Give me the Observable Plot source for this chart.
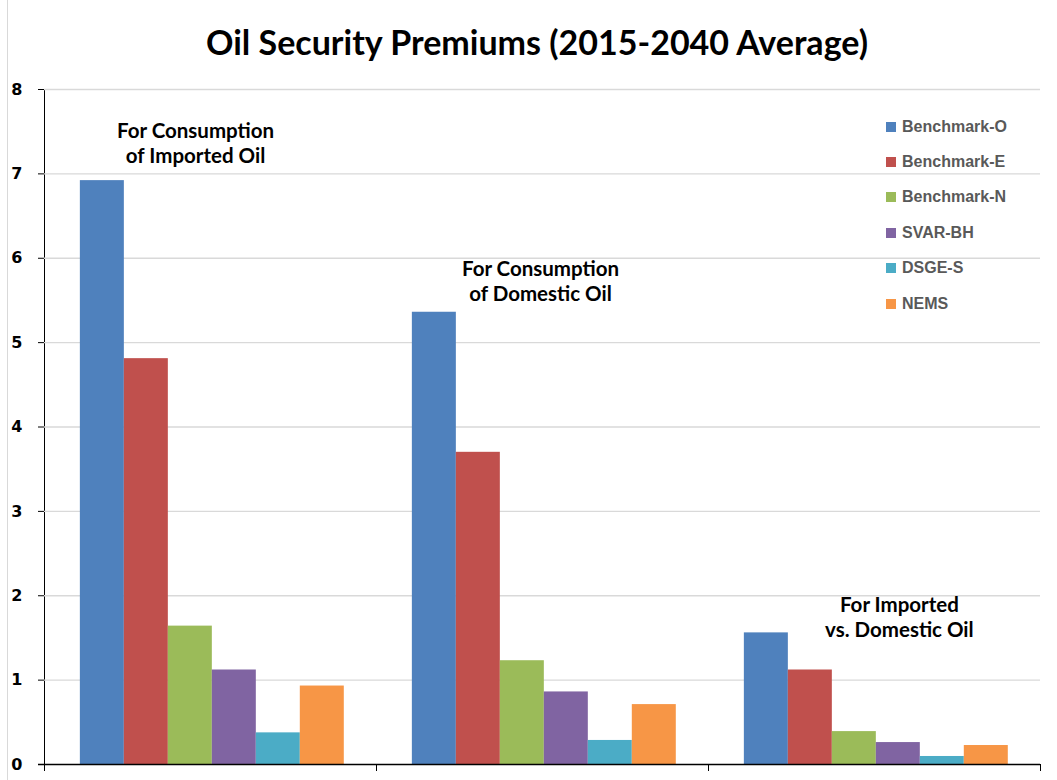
<!DOCTYPE html>
<html>
<head>
<meta charset="utf-8">
<script src="https://cdn.jsdelivr.net/npm/d3@7"></script>
<script src="https://cdn.jsdelivr.net/npm/@observablehq/plot@0.6"></script>
<style>
  body { margin: 0; background: #fff; }
  #chart { position: relative; width: 1057px; height: 780px; overflow: hidden; }
  #edge { position: absolute; left: 7px; top: 0; width: 0; height: 780px; border-left: 1px solid #d9d9d9; }
  #title { height: 75px; box-sizing: border-box; padding: 25px 0 0 17px; text-align: center;
           font: bold 34px Lato, sans-serif; line-height: 34px; color: #000; }
  #legend { position: absolute; left: 886px; top: 109px; font: bold 16px "Liberation Sans", sans-serif; color: #595959; }
  #legend .row { height: 35.4px; display: flex; align-items: center; }
  #legend .sw { width: 10px; height: 10px; margin-right: 6px; }
  #chart svg [aria-label^="y-axis"] text { font-size: 16px !important; font-weight: bold !important; font-family: "DejaVu Sans", sans-serif !important; }
</style>
</head>
<body>
<div id="chart">
  <div id="edge"></div>
  <div id="title"></div>
  <div id="legend"></div>
</div>
<script>
// Oil security premiums, 2015-2040 average, by model
const titleText = "Oil Security Premiums (2015-2040 Average)";
const groups = [
  "For Consumption\nof Imported Oil",
  "For Consumption\nof Domestic Oil",
  "For Imported\nvs. Domestic Oil"
];
const series = ["Benchmark-O", "Benchmark-E", "Benchmark-N", "SVAR-BH", "DSGE-S", "NEMS"];
const colors = ["#4f81bd", "#c0504d", "#9bbb59", "#8064a2", "#4bacc6", "#f79646"];
const importedOil = [6.92, 4.81, 1.64, 1.12, 0.375, 0.93];
const domesticOil = [5.36, 3.70, 1.23, 0.86, 0.285, 0.71];
const importedVsDomestic = [1.56, 1.12, 0.39, 0.26, 0.095, 0.225];
const yTicks = [0, 1, 2, 3, 4, 5, 6, 7, 8];

// where each group's caption sits (group units, value units)
const captionX = [0.455, 0.494, 0.575];
const captionY = [7.63, 6.0, 2.02];

const values = [importedOil, domesticOil, importedVsDomestic];
const table = groups.flatMap((g, gi) =>
  values[gi].map((v, si) => ({group: g, gi, series: series[si], si, value: v}))
);
const captions = groups.map((label, gi) => ({label, x: gi + captionX[gi], y: captionY[gi]}));

// bars are laid out within each group's unit-wide slot
const lead = 0.108, barW = 0.1325;

document.getElementById("title").textContent = titleText;

const legend = document.getElementById("legend");
series.forEach((s, i) => {
  const row = document.createElement("div");
  row.className = "row";
  const sw = document.createElement("div");
  sw.className = "sw";
  sw.style.background = colors[i];
  const tx = document.createElement("span");
  tx.textContent = s;
  row.append(sw, tx);
  legend.append(row);
});

const plot = Plot.plot({
  width: 1057,
  height: 705,
  marginTop: 14,
  marginLeft: 44,
  marginRight: 17,
  marginBottom: 16,
  style: {fontFamily: "DejaVu Sans", fontSize: "16px", fontWeight: "bold", color: "#000", background: "transparent", overflow: "visible"},
  x: {domain: [0, 3], ticks: [0, 1, 2, 3], tickFormat: () => "", tickSize: 7, label: null},
  y: {domain: [0, 8], ticks: yTicks, tickFormat: d3.format("d"), tickSize: 6, tickPadding: 16, label: null, line: true},
  color: {domain: series, range: colors},
  marks: [
    Plot.ruleY(yTicks.slice(1), {stroke: "#d9d9d9", strokeWidth: 1.3}),
    Plot.rectY(table, {
      x1: d => d.gi + lead + d.si * barW,
      x2: d => d.gi + lead + (d.si + 1) * barW,
      y: "value",
      fill: "series"
    }),
    Plot.ruleY([0], {stroke: "#000", strokeWidth: 1.5, insetLeft: -6}),
    Plot.text(captions, {
      x: "x", y: "y", text: "label", lineAnchor: "top",
      fontFamily: "Lato", fontWeight: "bold", fontSize: 20.5, lineHeight: 1.22, fill: "#000"
    })
  ]
});
document.getElementById("chart").append(plot);
</script>
</body>
</html>
